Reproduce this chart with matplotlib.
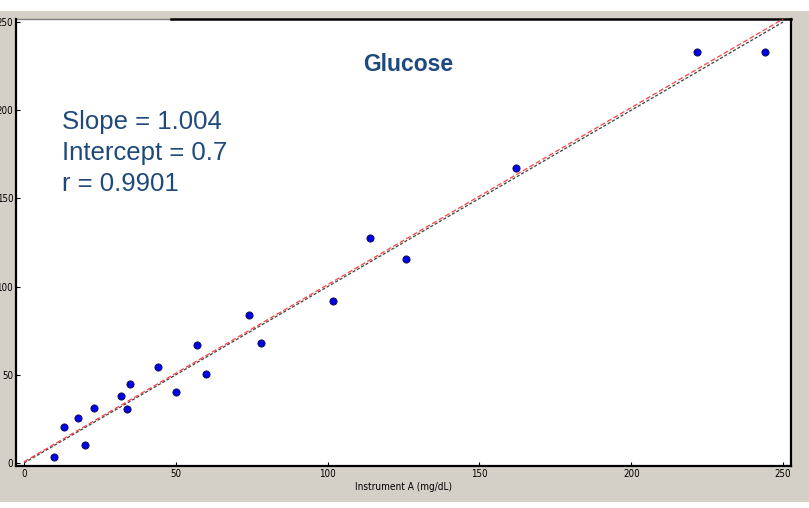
import matplotlib
matplotlib.use("Agg")
from matplotlib import pyplot as plt
from matplotlib.patches import Rectangle

# readings: instrument A vs instrument B, glucose (mg/dL)
instrument_a = [9.9, 13.1, 17.9, 20.2, 23.1, 32.1, 34.0, 34.9, 44.0, 50.0,
                57.0, 59.9, 74.1, 78.1, 101.8, 113.9, 125.8, 162.0, 221.8, 244.1]
instrument_b = [3.4, 20.4, 25.3, 10.2, 31.2, 38.2, 30.4, 45.0, 54.2, 40.1,
                67.1, 50.3, 84.1, 67.9, 91.8, 127.6, 115.8, 167.4, 233.0, 233.0]

slope = 1.004
intercept = 0.7
r_value = 0.9901
line_x = [0, 250]
ticks = [0, 50, 100, 150, 200, 250]

TEXT_BLUE = "#1F497D"
GRAY = "#d4d0c8"

plt.rcParams["font.family"] = ["Liberation Sans", "DejaVu Sans"]

fig = plt.figure(figsize=(8.09, 5.08), dpi=100, facecolor=GRAY)
W, H = 809, 508

# white strips around the screenshot edges
fig.add_artist(Rectangle((0, 1 - 11 / H), 1, 11 / H, transform=fig.transFigure,
                         facecolor="white", edgecolor="none", zorder=0))
fig.add_artist(Rectangle((0, 0), 1, 6 / H, transform=fig.transFigure,
                         facecolor="white", edgecolor="none", zorder=0))

ax = fig.add_axes([16 / W, 42 / H, 775 / W, 447 / H])
ax.set_facecolor("white")

# identity line and fitted line
ax.plot(line_x, line_x, color="#404040", linestyle=(0, (2.5, 1.5)), linewidth=0.9, zorder=2)
ax.plot(line_x, [slope * x + intercept for x in line_x], color="#ff4040",
        linestyle=(0, (4, 2)), linewidth=0.9, zorder=3)

ax.plot(instrument_a, instrument_b, linestyle="none", marker="o", markersize=5.2,
        markerfacecolor="#0000e6", markeredgecolor="#101040", markeredgewidth=0.6, zorder=4)

ax.set_xlim(-2.64, 252.6)
ax.set_ylim(-1.7, 251.7)
ax.set_xticks(ticks)
ax.set_yticks(ticks)

small_font = {"family": "DejaVu Sans", "stretch": "condensed", "size": 7}
ax.set_xticklabels([str(t) for t in ticks], fontdict=small_font)
ax.set_yticklabels([str(t) for t in ticks], fontdict=small_font)
ax.tick_params(direction="in", length=3, width=0.8, pad=2, colors="black")

ax.set_xlabel("Instrument A (mg/dL)", fontdict=dict(small_font, size=7.2), labelpad=2)

for side in ["left", "bottom", "right"]:
    ax.spines[side].set_linewidth(1.6)
    ax.spines[side].set_color("black")
ax.spines["top"].set_linewidth(1.8)
ax.spines["top"].set_bounds(48.4, 252.6)
ax.axhline(251.7, xmin=0, xmax=0.2, color="#808080", linewidth=1, clip_on=False)

ax.text(0.5065, 0.898, "Glucose", transform=ax.transAxes, ha="center", va="center",
        fontsize=16.5, fontweight="bold", color=TEXT_BLUE)
ax.text(0.059, 0.797, f"Slope = {slope}\nIntercept = {intercept}\nr = {r_value}",
        transform=ax.transAxes, ha="left", va="top", fontsize=18.5, color=TEXT_BLUE,
        linespacing=1.37)

fig.savefig("out.png", dpi=100, facecolor=GRAY)
